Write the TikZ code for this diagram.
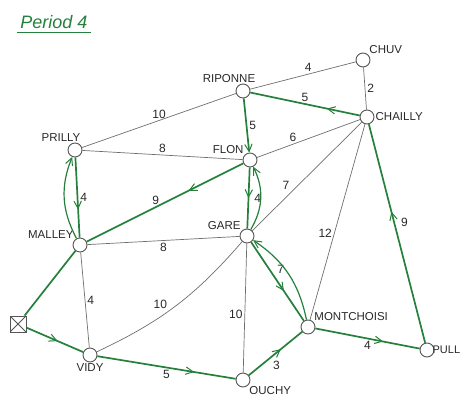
\documentclass[tikz,border=0pt]{standalone}
\usepackage{fontspec}
\setmainfont{Liberation Sans}
\usetikzlibrary{
  arrows.meta,
  positioning,
  decorations.markings
}
\definecolor{RouteGreen}{RGB}{36,128,58}
\definecolor{LinkGray}{RGB}{110,110,110}
\definecolor{StopGray}{RGB}{85,85,85}
\definecolor{InkBlack}{RGB}{40,40,40}
\tikzset{
  stopnode/.style={circle,draw=StopGray,fill=white,line width=0.9pt,minimum size=14pt,inner sep=0pt},
  depotnode/.style={rectangle,draw=StopGray,fill=white,line width=0.9pt,minimum size=16pt,inner sep=0pt,
    path picture={\draw[StopGray,line width=0.8pt] (path picture bounding box.north west) -- (path picture bounding box.south east)
      (path picture bounding box.north east) -- (path picture bounding box.south west);}},
  stoplabel/.style={font=\fontsize{11.5}{12}\selectfont,text=InkBlack,inner sep=1pt},
  linkline/.style={draw=LinkGray,line width=0.7pt},
  routeline/.style={draw=RouteGreen,line width=1.7pt},
  routebend/.style={draw=RouteGreen,line width=1.2pt},
  weight/.style={font=\fontsize{12}{12}\selectfont,text=InkBlack,inner sep=2pt},
  midarrow/.style={postaction={decorate},decoration={markings,
    mark=at position #1 with {\arrow{Straight Barb[length=2.6mm,width=2.6mm,line width=1pt]}}}},
  endarrow/.style={-{Straight Barb[length=2.6mm,width=2.6mm,line width=1pt]}}
}

\begin{document}
\begin{tikzpicture}[x=1pt,y=-1pt]
\useasboundingbox (0,0) rectangle (463,407);

\node[font=\fontsize{18}{18}\selectfont\itshape,text=RouteGreen] (title) at (54,22) {Period 4};
\draw[RouteGreen,line width=1pt] (title.south west) -- (title.south east);

% stops
\node[stopnode,label={[stoplabel]above right:CHUV}] (chuv) at (363,60) {};
\node[stopnode,label={[stoplabel,xshift=-14pt]above:RIPONNE}] (riponne) at (243,91) {};
\node[stopnode,label={[stoplabel]right:CHAILLY}] (chailly) at (367,117) {};
\node[stopnode,label={[stoplabel,xshift=-14pt]above:PRILLY}] (prilly) at (75,150) {};
\node[stopnode,label={[stoplabel]above left:FLON}] (flon) at (250,160) {};
\node[stopnode,label={[stoplabel]above left:GARE}] (gare) at (247,236) {};
\node[stopnode,label={[stoplabel]above left:MALLEY}] (malley) at (80,245) {};
\node[depotnode] (depot) at (18,324) {};
\node[stopnode,label={[stoplabel]below:VIDY}] (vidy) at (90,355) {};
\node[stopnode,label={[stoplabel]below right:OUCHY}] (ouchy) at (243,380) {};
\node[stopnode,label={[stoplabel]above right:MONTCHOISI}] (montchoisi) at (308,327) {};
\node[stopnode,label={[stoplabel,xshift=-3pt,font=\fontsize{11}{12}\selectfont]right:PULL}] (pully) at (427,350) {};

% plain links
\draw[linkline] (riponne) -- node[weight,pos=.55,above]{4} (chuv);
\draw[linkline] (chuv) -- node[weight,right]{2} (chailly);
\draw[linkline] (prilly) -- node[weight,above]{10} (riponne);
\draw[linkline] (prilly) -- node[weight,above]{8} (flon);
\draw[linkline] (flon) -- node[weight,pos=.35,above]{6} (chailly);
\draw[linkline] (gare) -- node[weight,pos=.36,above left]{7} (chailly);
\draw[linkline] (montchoisi) -- node[weight,pos=.44,left]{12} (chailly);
\draw[linkline] (malley) -- node[weight,below]{8} (gare);
\draw[linkline] (malley) -- node[weight,right]{4} (vidy);
\draw[linkline] (vidy) to[bend right=12] node[weight,pos=.45,above left]{10} (gare);
\draw[linkline] (gare) -- node[weight,pos=.55,left]{10} (ouchy);

% bus route
\draw[routeline,midarrow=.3] (chailly) -- node[weight,above]{5} (riponne);
\draw[routeline,endarrow] (riponne) -- node[weight,right]{5} (flon);
\draw[routeline,midarrow=.35] (flon) -- node[weight,pos=.56,above]{9} (malley);
\draw[routeline,midarrow=.65] (prilly) -- node[weight,right]{4} (malley);
\draw[routebend,endarrow] (malley) to[bend left=25] (prilly);
\draw[routeline,midarrow=.5] (flon) -- node[weight,right=3pt]{4} (gare);
\draw[routebend,endarrow] (gare) to[bend right=28] (flon);
\draw[routeline] (depot) -- (malley);
\draw[routeline,midarrow=.55] (depot) -- (vidy);
\draw[routeline,midarrow=.7] (vidy) -- node[weight,below]{5} (ouchy);
\draw[routeline,midarrow=.6] (ouchy) -- node[weight,pos=.4,below right]{3} (montchoisi);
\draw[routeline,midarrow=.62] (gare) -- node[weight,pos=.35,right=5pt]{7} (montchoisi);
\draw[routebend,endarrow] (montchoisi) to[bend right=22] (gare);
\draw[routeline,midarrow=.65] (montchoisi) -- node[weight,below]{4} (pully);
\draw[routeline,midarrow=.6] (pully) -- node[weight,pos=.55,right=4pt]{9} (chailly);
\end{tikzpicture}
\end{document}
